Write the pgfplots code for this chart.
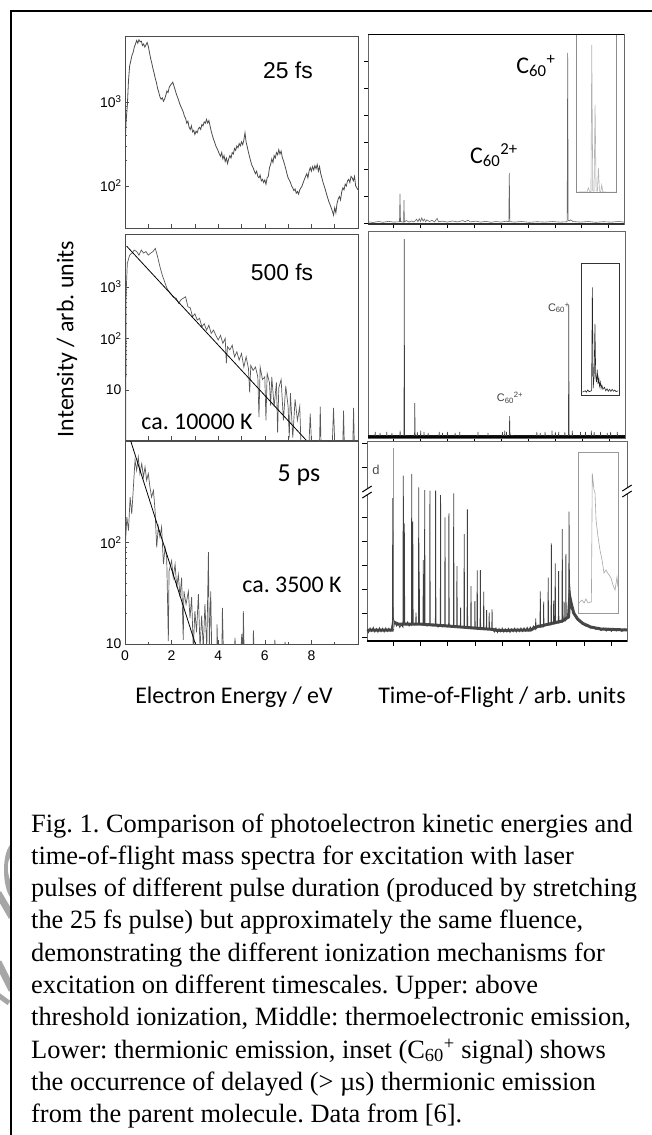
\documentclass[border=0pt]{standalone}
\usepackage{fontspec}
\setmainfont{Liberation Serif}
\newfontfamily\arial{Liberation Sans}
\newfontfamily\calibri{Carlito}
\usepackage{pgfplots}
\pgfplotsset{compat=1.18}
\frenchspacing
\pgfplotsset{
 leftpanel/.style={scale only axis, anchor=north west, width=233bp, xmin=0, xmax=10,
   axis line style={draw=black!70, line width=0.6pt}, tick align=inside,
   major tick length=4bp, minor tick length=2bp, tick style={black!70, line width=0.5pt},
   ticklabel style={font=\arial\fontsize{14}{14}\selectfont},
   xtick={0,1,...,10}, xticklabels={},
   ytick pos=left, xtick pos=bottom},
 rightpanel/.style={scale only axis, anchor=north west, xmin=0, xmax=100, ymin=0, ymax=100,
   axis line style={draw=black!60, line width=0.6pt}, tick align=outside,
   tick style={black, line width=0.7pt}, xticklabels={}, yticklabels={},
   ytick pos=left, xtick pos=bottom}
}
\begin{document}
\begin{tikzpicture}
\path[use as bounding box] (0,0) rectangle (652bp,-1135bp);
\fill[white] (0,0) rectangle (652bp,-1135bp);
% faint watermark fragments at the left edge
\begin{scope}
\clip (0,-800bp) rectangle (10bp,-1060bp);
\fill[black!35] (10bp,-845bp) .. controls (2bp,-855bp) and (2bp,-885bp) .. (10bp,-897bp) -- (10bp,-880bp) .. controls (7bp,-872bp) and (7bp,-862bp) .. (10bp,-858bp) -- cycle;
\draw[black!35, line width=7bp] (-2bp,-893bp) -- (12bp,-917bp);
\draw[black!35, line width=7bp] (-2bp,-962bp) -- (12bp,-990bp);
\draw[black!35, line width=5bp] (-2bp,-995bp) -- (9bp,-1003bp);
\end{scope}
% frame
\draw[line width=1.6bp] (11bp,-1135bp) -- (11bp,-11bp) -- (652bp,-11bp);

% ---------------- A1: 25 fs
\begin{axis}[ymode=log, leftpanel, at={(125bp,-36bp)}, height=192bp, ymin=31.6, ymax=6100,
  ytick={100,1000}, yticklabels={10\textsuperscript{2},10\textsuperscript{3}}]
\addplot[black!70, line width=0.8pt] coordinates {
(0.02,400)(0.05,600)(0.1,900)(0.15,1800)(0.2,2700)(0.25,3100)(0.3,3600)(0.35,3900)(0.4,4500)(0.45,4900)(0.5,5400)(0.55,5000)(0.6,5500)(0.65,5200)(0.7,5300)(0.75,4700)(0.8,4900)(0.85,4500)(0.9,4800)(0.95,5100)(1.0,4600)(1.05,3900)(1.1,3300)(1.15,2900)(1.2,2500)(1.25,2200)(1.3,1900)(1.35,1700)(1.4,1450)(1.45,1300)(1.5,1150)(1.55,1080)(1.6,1120)(1.65,1020)(1.7,1080)(1.75,1200)(1.8,1350)(1.85,1300)(1.9,1500)(1.95,1580)(2.0,1650)(2.05,1720)(2.1,1550)(2.15,1400)(2.2,1250)(2.25,1150)(2.3,1050)(2.35,950)(2.4,880)(2.45,820)(2.5,760)(2.55,680)(2.6,640)(2.65,560)(2.7,590)(2.75,500)(2.8,470)(2.85,520)(2.9,440)(2.95,460)(3.0,410)(3.05,450)(3.1,430)(3.15,480)(3.2,500)(3.25,470)(3.3,540)(3.35,520)(3.4,580)(3.45,560)(3.5,620)(3.55,560)(3.6,600)(3.65,520)(3.7,450)(3.75,400)(3.8,360)(3.85,330)(3.9,300)(3.95,280)(4.0,260)(4.05,240)(4.1,225)(4.15,250)(4.2,210)(4.25,230)(4.3,195)(4.35,215)(4.4,185)(4.45,210)(4.5,230)(4.55,215)(4.6,250)(4.65,240)(4.7,280)(4.75,265)(4.8,300)(4.85,285)(4.9,320)(4.95,300)(5.0,335)(5.05,310)(5.1,350)(5.15,430)(5.2,330)(5.25,290)(5.3,250)(5.35,220)(5.4,195)(5.45,175)(5.5,165)(5.55,150)(5.6,140)(5.65,150)(5.7,130)(5.75,125)(5.8,135)(5.85,115)(5.9,120)(5.95,110)(6.0,118)(6.05,105)(6.1,125)(6.15,130)(6.2,165)(6.25,180)(6.3,210)(6.35,190)(6.4,230)(6.45,215)(6.5,250)(6.55,235)(6.6,270)(6.65,240)(6.7,260)(6.75,220)(6.8,200)(6.85,180)(6.9,160)(6.95,140)(7.0,125)(7.05,118)(7.1,110)(7.15,100)(7.2,95)(7.25,88)(7.3,92)(7.35,82)(7.4,86)(7.45,80)(7.5,90)(7.55,95)(7.6,100)(7.65,110)(7.7,120)(7.75,130)(7.8,140)(7.85,125)(7.9,150)(7.95,165)(8.0,150)(8.05,170)(8.1,155)(8.15,175)(8.2,160)(8.25,180)(8.3,150)(8.35,170)(8.4,140)(8.45,125)(8.5,110)(8.55,100)(8.6,90)(8.65,80)(8.7,72)(8.75,65)(8.8,60)(8.85,55)(8.9,50)(8.95,45)(9.0,55)(9.05,48)(9.1,62)(9.15,70)(9.2,75)(9.25,68)(9.3,85)(9.35,95)(9.4,90)(9.45,105)(9.5,100)(9.55,115)(9.6,120)(9.65,110)(9.7,130)(9.75,125)(9.8,115)(9.85,130)(9.9,100)(9.95,95)(10.0,90)};
\end{axis}

% ---------------- A2: 500 fs
\begin{axis}[ymode=log, leftpanel, at={(125bp,-234bp)}, height=206bp, ymin=1.08, ymax=10500,
  ytick={10,100,1000}, yticklabels={10,10\textsuperscript{2},10\textsuperscript{3}}]
\addplot[black!65, line width=0.7pt] coordinates {
(0.03,1.0)(0.05,800)(0.1,2840)(0.2,4100)(0.3,4480)(0.4,5130)(0.5,4800)(0.6,4100)(0.7,5130)(0.8,4480)(0.9,4800)(1.0,4100)(1.1,4480)(1.2,4800)(1.3,5530)(1.4,3800)(1.5,2440)(1.6,1680)(1.7,1250)(1.8,930)(1.9,800)(2.0,690)(2.1,620)(2.2,600)(2.3,480)(2.4,560)(2.5,600)(2.6,640)(2.7,410)(2.8,390)(2.9,263)(3.0,300)(3.1,227)(3.2,245)(3.3,168)(3.4,193)(3.5,145)(3.6,180)(3.7,125)(3.8,145)(3.9,115)(4.0,93)(4.1,115)(4.2,80)(4.3,100)(4.35,33)(4.4,69)(4.5,60)(4.6,74)(4.7,44)(4.8,55)(4.9,38)(5.0,51)(5.1,28)(5.2,44)(5.3,26)(5.35,9)(5.4,30)(5.5,24)(5.6,28)(5.7,18)(5.75,3)(5.8,28)(5.9,16)(6.0,18)(6.05,2.6)(6.1,21)(6.2,14)(6.25,5)(6.3,18)(6.4,4.8)(6.5,14)(6.55,1.5)(6.6,11)(6.7,16)(6.8,2.6)(6.9,12)(7.0,4.8)(7.05,1.2)(7.1,8.7)(7.2,1.2)(7.3,6.6)(7.4,2.6)(7.5,4.8)(7.55,1)(7.9,1)(7.95,3.5)(8.0,1)(8.35,1)(8.38,4.8)(8.41,1)(8.9,1)(8.95,4.5)(9.0,1)(9.35,1)(9.38,4)(9.41,1)(9.78,1)(9.81,4.5)(9.84,1)(9.95,1)};
\addplot[black, line width=0.8pt] coordinates {(0.07,6120)(7.77,1.08)};
\end{axis}

% ---------------- A3: 5 ps
\begin{axis}[ymode=log, leftpanel, at={(125bp,-441bp)}, height=203bp, ymin=10, ymax=990,
  ytick={10,100}, yticklabels={10,10\textsuperscript{2}},
  xtick={0,2,4,6,8}, xticklabels={0,2,4,6,8}, minor xtick={1,3,5,7,9},
  xticklabel style={yshift=-3bp}]
\addplot[black!65, line width=0.7pt] coordinates {
(0.01,89)(0.08,177)(0.15,130)(0.22,278)(0.29,190)(0.36,349)(0.43,641)(0.5,510)(0.57,690)(0.64,474)(0.72,594)(0.79,438)(0.86,550)(0.93,406)(1.0,474)(1.07,349)(1.14,278)(1.22,324)(1.29,206)(1.36,89)(1.43,141)(1.5,112)(1.57,141)(1.65,61)(1.72,89)(1.79,71)(1.86,10.7)(1.89,52)(2.0,66)(2.07,45)(2.15,61)(2.22,36)(2.29,48)(2.36,29)(2.43,45)(2.5,11)(2.53,33)(2.62,24.6)(2.72,33)(2.79,18)(2.86,29)(2.93,9)(3.0,21)(3.07,13)(3.15,31)(3.22,9)(3.29,19)(3.36,9)(3.43,24.6)(3.51,9)(3.58,80)(3.62,9)(3.68,33)(3.72,9)(3.94,9)(3.95,15.6)(3.98,9)(4.16,9)(4.18,22.6)(4.22,9)(4.7,9)(4.72,11.5)(4.75,9)(4.98,9)(5.01,12.5)(5.04,9)(5.06,9)(5.08,21)(5.11,9)(5.5,9)(5.51,13.6)(5.54,9)(6.42,9)(6.43,11)(6.46,9)(6.85,9)(6.87,10.5)(6.9,9)(10,9)};
\addplot[black, line width=0.8pt] coordinates {(0.245,990)(3.02,10)};
\end{axis}

% ---------------- B1: 25 fs TOF
\begin{axis}[rightpanel, at={(368bp,-34bp)}, width=256bp, height=190bp,
  ytick={0.5,14.7,28.9,43.1,57.3,71.5,85.7}, major tick length=4bp,
  xtick={10,20.5,31,41.5,52,62.5,73,83.5,94}]
\addplot[black!60, line width=0.6pt] coordinates {
(0,1.2)(2,0.8)(4,1.3)(6,0.9)(8,1.4)(10,1.0)(12.3,1.2)(12.5,15.8)(12.7,1.3)(13.9,1.0)(14.06,12.6)(14.2,1.1)(15,1.8)(16,1.0)(17,1.6)(18,1.1)(19,2.5)(19.5,1.2)(20,2.8)(20.5,1.3)(21,3.2)(21.5,1.5)(22,2.6)(22.5,1.2)(23,2.2)(24,1.3)(25,1.9)(26,1.1)(27,3.0)(27.5,1.2)(29,1.5)(31,1.0)(33,1.6)(35,1.1)(37,1.8)(38,1.2)(39,2.0)(40,1.1)(42,1.5)(44,1.0)(46,1.4)(48,0.9)(50,1.3)(52,1.0)(54,1.5)(55.0,1.2)(55.2,26.8)(55.4,1.3)(57,1.0)(60,1.3)(63,0.9)(66,1.2)(69,1.0)(72,1.3)(75,1.0)(77.8,1.2)(78.0,90)(78.2,2.0)(78.6,1.6)(79.2,2.2)(80,1.3)(83,1.0)(86,1.3)(89,0.9)(92,1.2)(95,1.0)(98,1.3)(100,1.0)};
\addplot[black!30, line width=0.6pt] coordinates {
(82,16.8)(84,16.9)(85.5,16.8)(86.1,19)(86.6,16.9)(87.1,17)(87.4,94.2)(87.8,17.5)(88.3,17.2)(88.7,62.8)(89.1,17.5)(89.6,17.2)(90.0,29.5)(90.4,17.3)(90.9,17)(91.3,20.5)(91.7,16.9)(93,16.8)(96.5,16.8)};
\draw[black!45, line width=0.6pt] (axis cs:81.5,16.7) rectangle (axis cs:97.1,100);
\draw[black, line width=2bp] (rel axis cs:0,1) -- (rel axis cs:1,1);
\draw[black!80, line width=1.2bp] (rel axis cs:0,0) -- (rel axis cs:1,0);
\end{axis}

% ---------------- B2: 500 fs TOF
\begin{axis}[rightpanel, at={(368bp,-231bp)}, width=257bp, height=207bp,
  ytick=\empty, major tick length=4bp,
  xtick={10,20.5,31,41.5,52,62.5,73,83.5,94}]
\addplot[black, line width=3bp] coordinates {(0,0.9)(100,0.9)};
\addplot[black!75, line width=0.6pt] coordinates {
(0,1)(2.7,1)(2.8,3)(2.9,1)(4.6,1)(4.7,2.5)(4.8,1)(7.2,1)(7.3,3)(7.4,1)(9.2,1)(9.3,2.5)(9.4,1)(12.4,1)(12.5,3.5)(12.6,1)(14.0,1)(14.1,96.1)(14.25,1.5)(15,1)(18.1,1)(18.2,16.8)(18.35,1.5)(19.1,1)(19.2,3)(19.3,1)(20.4,1)(20.5,3.5)(20.6,1)(21.7,1)(21.8,3)(21.9,1)(23.3,1)(23.4,2.5)(23.5,1)(27.6,1)(27.7,3)(27.8,1)(28.9,1)(29.0,2.5)(29.1,1)(30.8,1)(30.9,3)(31.0,1)(33.8,1)(33.9,2.5)(34.0,1)(35.6,1)(35.7,3)(35.8,1)(42.7,1)(42.8,3)(42.9,1)(46.6,1)(46.7,2.5)(46.8,1)(52.2,1)(52.3,3)(52.4,1)(53.1,1)(53.2,3.5)(53.3,1)(53.8,1)(53.9,3)(54.0,1)(55.0,1)(55.1,10.6)(55.25,1.5)(56.5,1)(65.6,1)(65.7,3)(65.8,1)(66.9,1)(67.0,2.5)(67.1,1)(68.8,1)(68.9,3)(69.0,1)(71.5,1)(71.6,3.5)(71.7,1)(72.8,1)(72.9,3)(73.0,1)(74.1,1)(74.2,3)(74.3,1)(76.5,1)(76.6,3)(76.7,1)(78.0,1)(78.1,64.25)(78.25,1.5)(79.4,1)(79.5,3.5)(79.6,1)(82.6,1)(82.7,3)(82.8,1)(84.5,1)(84.6,3)(84.7,1)(86.8,1)(86.9,3.5)(87.0,1)(87.9,1)(88.0,3)(88.1,1)(90.4,1)(90.5,3)(90.6,1)(93.0,1)(93.1,2.5)(93.2,1)(94.3,1)(94.4,3)(94.5,1)(96.9,1)(97.0,3)(97.1,1)(100,1)};
\addplot[black!85, line width=0.6pt] coordinates {
(83.5,22.2)(84.5,22.8)(85,22.2)(85.5,23.2)(86,22.4)(86.6,22.6)(87.0,23)(87.3,72.8)(87.6,24)(88.0,30)(88.3,55.1)(88.6,30)(88.9,27)(89.2,33)(89.5,26)(89.8,29)(90.1,25)(90.4,27)(90.7,24)(91.0,25.5)(91.4,23.5)(92,24.5)(92.5,22.8)(93,23.8)(93.5,22.6)(94,23.5)(94.5,22.5)(95,23.5)(95.5,22.6)(96,23.2)(96.5,22.4)(97.3,22.8)};
\draw[black!80, line width=0.9pt] (axis cs:83.0,20.4) rectangle (axis cs:97.8,84.1);
\end{axis}

% ---------------- B3: 5 ps TOF
\begin{axis}[rightpanel, at={(367bp,-441bp)}, width=260bp, height=200bp, clip=false,
  ytick={1.85,13.85,25.85,37.65,49.65,61.85,86.65,99}, major tick length=5bp,
  xtick={10,20.5,31,41.5,52,62.5,73,83.5,94}]
\addplot[black!70, line width=3bp] coordinates {
(0,5.5)(9.7,5.5)(10.2,9.5)(12,8.5)(20,8.5)(28,7.8)(36,7)(44,6.2)(48.5,5.8)(50,5.3)(63,5.5)(65,7)(70,8.5)(75,10)(77.5,12)(78,22)(78.5,19)(79.5,14)(81,11)(83,8.8)(86,7)(90,6)(100,5.5)};
\addplot[black!40, line width=0.4pt] coordinates {(9.95,6)(9.95,96.5)};
\addplot[black!75, line width=0.8pt] coordinates {
(0,5.5)(0.6,4.2)(1.2,6.5)(1.8,4.8)(2.4,6.8)(3.0,4.5)(3.6,6.2)(4.2,4.4)(4.8,6.6)(5.4,4.7)(6.0,6.3)(6.6,4.5)(7.2,6.5)(7.8,4.8)(8.4,6.4)(9.0,5.0)(9.6,6)(9.8,8)(9.9,71.4)(10.05,12)(10.4,10)(10.8,9)(11.4,7.5)(12,8.6)(12.6,6.8)(13.2,8.2)(13.8,7)(13.96,82.65)(14.1,9)(14.35,58.85)(14.5,9.5)(15,8)(15.6,9.5)(16.2,7.5)(16.8,8.5)(17.1,8)(17.2,83.5)(17.35,9)(17.6,59.65)(17.75,9)(18.3,8)(18.75,9)(18.85,14.15)(18.95,8.5)(19.8,8.5)(19.9,76.85)(20.0,9)(20.1,34.65)(20.2,8.5)(21.0,8.0)(21.55,8.5)(21.65,40.5)(21.75,8.5)(22.1,8.5)(22.2,75.5)(22.3,8.5)(23,7.5)(24.1,8)(24.2,75.15)(24.3,8.5)(25.2,7.5)(26.3,8)(26.4,75.15)(26.5,8)(27.3,7)(28.2,8)(28.3,73)(28.4,8)(29.1,7)(29.9,8)(30.0,61.85)(30.1,8)(30.8,7)(31.4,8)(31.5,63.85)(31.6,8)(32.5,7)(33.25,7.5)(33.35,73.85)(33.45,7.5)(34.5,7.5)(34.6,37.5)(34.7,7.5)(35.9,7)(36.0,16.65)(36.1,7)(37.3,7)(37.4,53.5)(37.5,7)(38.5,7)(38.6,65.85)(38.7,7)(39.9,6.5)(40.0,27.5)(40.1,6.5)(41.4,6.5)(41.5,20)(41.6,6.5)(42.3,6.5)(42.4,35.35)(42.5,6.5)(43.5,6.5)(43.6,35.5)(43.7,6.5)(44.8,6)(44.9,24.65)(45.0,6)(45.9,6)(46.0,15.5)(46.1,6)(46.9,6)(47.0,14.15)(47.1,6)(48.0,6)(48.1,15.85)(48.2,6)(49,4.5)(49.6,6.5)(50.2,4.3)(50.8,6.2)(51.4,4.6)(52,6.4)(52.6,4.4)(53.2,6.1)(53.8,4.5)(54.4,6.3)(55,4.3)(55.6,6.0)(56.2,4.6)(56.8,6.4)(57.4,4.5)(58,6.2)(58.6,4.7)(59.2,6.5)(59.8,4.8)(60.4,6.6)(61,5)(61.6,6.8)(62.2,5.2)(62.8,7)(63.4,5.5)(64.0,7.5)(64.8,6)(64.9,11.35)(65,6)(65.8,8)(66.55,7)(66.65,24.85)(66.75,7)(67.85,7)(67.95,19.65)(68.05,7.5)(69.6,8)(69.7,31.65)(69.8,8)(70.8,8)(70.9,48.85)(71.0,8.5)(71.7,8.5)(71.8,20.15)(71.9,8.5)(72.3,8.5)(72.4,38.85)(72.5,9)(73.6,9)(73.7,35)(73.8,9)(75.0,9.5)(75.1,56)(75.2,9.5)(75.7,10)(75.8,19.65)(75.9,10)(76.4,10)(76.5,43.5)(76.6,11)(77.6,12)(77.7,64.65)(77.85,30)(78.3,22)(78.8,17)(79.5,14)(80.3,12)(81,10.5)(82,9.5)(83,8.5)(84,7.5)(85,8)(86,6.5)(87,7.2)(88,5.8)(89,6.8)(90,5.2)(91,6.5)(92,5)(93,6.4)(94,4.8)(95,6.3)(96,5)(97,6.2)(98,4.8)(99,6)(100,5.2)};
\addplot[black!35, line width=0.6pt] coordinates {
(81.5,19)(82.7,20.5)(83.5,19)(84.2,21)(85,19)(85.8,19.5)(86.3,19.5)(86.65,83.85)(87.3,75.5)(87.7,74)(88.1,60.5)(88.85,52.15)(89.6,45.5)(90.4,40.5)(91.15,34)(91.9,35.5)(92.3,34.5)(93.1,33)(93.85,31.5)(94.6,28)(95.4,25.5)(96.15,32)(96.5,27)};
\draw[black!40, line width=0.6pt] (axis cs:81.4,13.85) rectangle (axis cs:96.65,94.15);
\draw[black, line width=1.2bp] (rel axis cs:0,0) -- (rel axis cs:1,0);
% axis breaks
\fill[white] (axis cs:-1.8,71.5) -- (axis cs:1.8,74.5) -- (axis cs:1.8,77.5) -- (axis cs:-1.8,74.5) -- cycle;
\draw[black, line width=1bp] (axis cs:-1.8,71.5) -- (axis cs:1.8,74.5);
\draw[black, line width=1bp] (axis cs:-1.8,74.5) -- (axis cs:1.8,77.5);
\fill[white] (axis cs:98.2,72) -- (axis cs:101.8,75) -- (axis cs:101.8,78) -- (axis cs:98.2,75) -- cycle;
\draw[black, line width=1bp] (axis cs:98.2,72) -- (axis cs:101.8,75);
\draw[black, line width=1bp] (axis cs:98.2,75) -- (axis cs:101.8,78);
\end{axis}

% ---------------- annotations
\node[font=\arial\fontsize{23}{23}\selectfont] at (288bp,-70.7bp) {25 fs};
\node[font=\arial\fontsize{23}{23}\selectfont] at (282bp,-272bp) {500 fs};
\node[font=\calibri\fontsize{26}{26}\selectfont] at (299bp,-475bp) {5 ps};
\node[font=\calibri\fontsize{24}{24}\selectfont] at (292bp,-585bp) {ca. 3500 K};
\node[font=\calibri\fontsize{24}{24}\selectfont] at (197bp,-422bp) {ca. 10000 K};
\node[font=\calibri\fontsize{24}{24}\selectfont, rotate=90] at (67bp,-339bp) {Intensity / arb. units};
\node[font=\calibri\fontsize{24}{24}\selectfont] at (234bp,-697bp) {Electron Energy / eV};
\node[font=\calibri\fontsize{24}{24}\selectfont] at (502bp,-697bp) {Time-of-Flight / arb. units};
\node[font=\calibri\fontsize{24}{24}\selectfont] at (536bp,-66bp) {C\textsubscript{60}\textsuperscript{+}};
\node[font=\calibri\fontsize{24}{24}\selectfont] at (494bp,-155bp) {C\textsubscript{60}\textsuperscript{2+}};
\node[font=\arial\fontsize{11}{11}\selectfont, text=black!75] at (559bp,-308bp) {C\textsubscript{60}\textsuperscript{+}};
\node[font=\arial\fontsize{11}{11}\selectfont, text=black!75] at (510bp,-398bp) {C\textsubscript{60}\textsuperscript{2+}};
\node[font=\arial\fontsize{13}{13}\selectfont, text=black!70] at (376bp,-470bp) {d};

% ---------------- caption
\begin{scope}[every node/.style={anchor=base west, inner sep=0pt, font=\fontsize{26.5}{30}\selectfont}]
\node at (31bp,-832bp) {Fig. 1. Comparison of photoelectron kinetic energies and};
\node at (31bp,-864.3bp) {time-of-flight mass spectra for excitation with laser};
\node at (31bp,-896.6bp) {pulses of different pulse duration (produced by stretching};
\node at (31bp,-928.9bp) {the 25 fs pulse) but approximately the same fluence,};
\node at (31bp,-961.2bp) {demonstrating the different ionization mechanisms for};
\node at (31bp,-993.5bp) {excitation on different timescales. Upper: above};
\node at (31bp,-1025.8bp) {threshold ionization, Middle: thermoelectronic emission,};
\node at (31bp,-1058.1bp) {Lower: thermionic emission, inset (C\textsubscript{60}\textsuperscript{+} signal) shows};
\node at (31bp,-1090.4bp) {the occurrence of delayed (> µs) thermionic emission};
\node at (31bp,-1122.7bp) {from the parent molecule. Data from [6].};
\end{scope}
\end{tikzpicture}
\end{document}
